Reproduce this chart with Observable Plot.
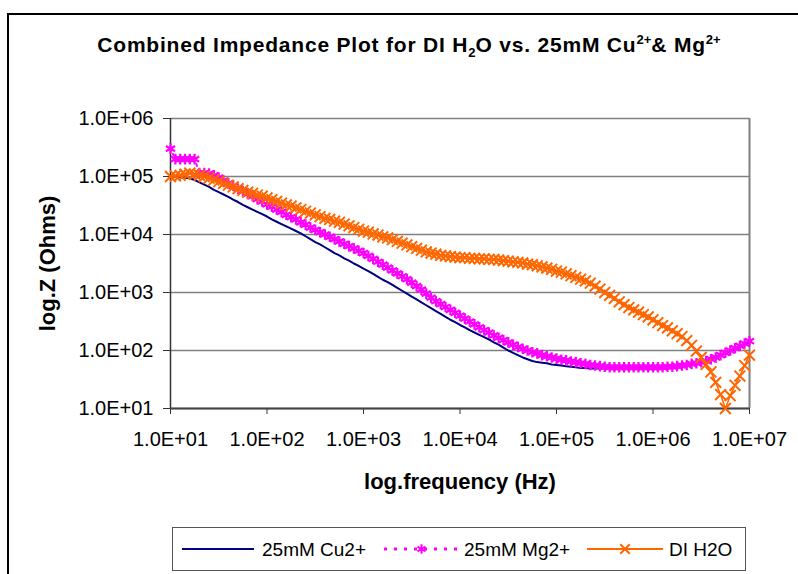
<!DOCTYPE html>
<html><head><meta charset="utf-8">
<script src="https://cdn.jsdelivr.net/npm/d3@7"></script>
<script src="https://cdn.jsdelivr.net/npm/@observablehq/plot@0.6"></script>
<style>
html,body{margin:0;padding:0;background:#fff;}
#wrap{position:relative;width:798px;height:574px;overflow:hidden;font-family:"Liberation Sans",Arial,sans-serif;background:#fff;}
#frame{position:absolute;left:7px;top:13px;width:900px;height:700px;border:2px solid #000;}
#title{position:absolute;left:0;width:818px;top:32px;text-align:center;font-weight:bold;font-size:21px;white-space:nowrap;letter-spacing:0.8px;line-height:26px;}
#title sub,#title sup{font-size:0.62em;line-height:0;letter-spacing:0;}
#chart{position:absolute;left:0;top:0;}
#legend{position:absolute;left:172px;top:527px;width:572px;height:42px;border:1px solid #555;background:#fff;}
#legend svg{display:block;}
</style>
</head><body>
<div id="wrap">
  <div id="frame"></div>
  <div id="chart"></div>
  <div id="title">Combined Impedance Plot for DI H<sub>2</sub>O vs. 25mM Cu<sup>2+</sup>&amp; Mg<sup>2+</sup></div>
  <div id="legend"></div>
</div>
<script>
// frequency exponents (log10 Hz)
const logFreq = [
 1.00,1.05,1.10,1.15,1.20,1.25,1.30,1.35,1.40,1.45,1.50,1.55,1.60,1.65,1.70,1.75,1.80,1.85,1.90,1.95,
 2.00,2.05,2.10,2.15,2.20,2.25,2.30,2.35,2.40,2.45,2.50,2.55,2.60,2.65,2.70,2.75,2.80,2.85,2.90,2.95,
 3.00,3.05,3.10,3.15,3.20,3.25,3.30,3.35,3.40,3.45,3.50,3.55,3.60,3.65,3.70,3.75,3.80,3.85,3.90,3.95,
 4.00,4.05,4.10,4.15,4.20,4.25,4.30,4.35,4.40,4.45,4.50,4.55,4.60,4.65,4.70,4.75,4.80,4.85,4.90,4.95,
 5.00,5.05,5.10,5.15,5.20,5.25,5.30,5.35,5.40,5.45,5.50,5.55,5.60,5.65,5.70,5.75,5.80,5.85,5.90,5.95,
 6.00,6.05,6.10,6.15,6.20,6.25,6.30,6.35,6.40,6.45,6.50,6.55,6.60,6.65,6.70,6.75,6.80,6.85,6.90,6.95,
 7.00];
// log10 impedance (Ohms)
const cuLogZ = [
 5.00,5.00,4.99,4.98,4.97,4.94,4.90,4.86,4.82,4.77,4.73,4.69,4.65,4.60,4.56,4.51,4.47,4.43,4.39,4.35,
 4.31,4.26,4.22,4.18,4.14,4.10,4.06,4.02,3.97,3.92,3.87,3.83,3.78,3.73,3.68,3.64,3.59,3.55,3.50,3.46,
 3.41,3.37,3.32,3.27,3.22,3.18,3.13,3.08,3.03,2.98,2.93,2.88,2.83,2.78,2.73,2.68,2.63,2.58,2.53,2.49,
 2.44,2.40,2.35,2.31,2.27,2.23,2.19,2.14,2.10,2.05,2.00,1.96,1.92,1.88,1.85,1.82,1.80,1.79,1.78,1.76,
 1.75,1.74,1.73,1.72,1.71,1.70,1.70,1.69,1.69,1.69,1.69,1.69,1.69,1.69,1.69,1.69,1.69,1.69,1.69,1.69,
 1.69,1.70,1.70,1.71,1.71,1.72,1.73,1.75,1.76,1.78,1.80,1.83,1.85,1.88,1.91,1.95,1.98,2.02,2.06,2.10,
 2.15];
const mgLogZ = [
 5.48,5.30,5.30,5.30,5.30,5.30,5.06,5.06,5.05,5.02,4.98,4.93,4.88,4.84,4.79,4.75,4.70,4.66,4.61,4.57,
 4.52,4.48,4.43,4.39,4.34,4.30,4.26,4.21,4.17,4.12,4.08,4.04,4.00,3.96,3.92,3.88,3.84,3.80,3.76,3.72,
 3.68,3.63,3.58,3.53,3.48,3.43,3.38,3.33,3.28,3.23,3.17,3.11,3.05,2.98,2.91,2.85,2.80,2.75,2.70,2.65,
 2.60,2.55,2.50,2.45,2.40,2.35,2.31,2.26,2.22,2.18,2.14,2.10,2.06,2.03,2.00,1.97,1.95,1.92,1.90,1.88,
 1.86,1.84,1.83,1.81,1.80,1.78,1.77,1.75,1.74,1.73,1.72,1.71,1.71,1.71,1.71,1.71,1.71,1.71,1.71,1.71,
 1.71,1.71,1.71,1.72,1.72,1.73,1.74,1.75,1.77,1.78,1.80,1.82,1.85,1.88,1.92,1.96,2.00,2.04,2.08,2.12,
 2.16];
const h2oLogZ = [
 5.00,5.01,5.02,5.04,5.06,5.04,5.02,5.00,4.97,4.94,4.91,4.88,4.85,4.82,4.79,4.76,4.73,4.71,4.68,4.66,
 4.63,4.60,4.57,4.54,4.51,4.49,4.46,4.43,4.40,4.37,4.34,4.31,4.28,4.26,4.23,4.21,4.18,4.15,4.12,4.09,
 4.06,4.04,4.01,3.99,3.96,3.94,3.91,3.88,3.85,3.82,3.79,3.76,3.73,3.70,3.68,3.66,3.64,3.63,3.62,3.61,
 3.60,3.60,3.59,3.59,3.58,3.58,3.57,3.57,3.56,3.55,3.54,3.53,3.52,3.51,3.49,3.48,3.46,3.44,3.42,3.40,
 3.37,3.35,3.32,3.29,3.26,3.23,3.20,3.16,3.11,3.06,3.00,2.95,2.90,2.84,2.79,2.74,2.70,2.66,2.62,2.58,
 2.53,2.48,2.43,2.39,2.34,2.29,2.24,2.17,2.09,1.99,1.88,1.76,1.63,1.45,1.24,1.00,1.22,1.40,1.56,1.74,
 1.92];
const xTicks = [1e1,1e2,1e3,1e4,1e5,1e6,1e7];
const xTickLabels = ["1.0E+01","1.0E+02","1.0E+03","1.0E+04","1.0E+05","1.0E+06","1.0E+07"];
const yTicks = [1e1,1e2,1e3,1e4,1e5,1e6];
const yTickLabels = ["1.0E+01","1.0E+02","1.0E+03","1.0E+04","1.0E+05","1.0E+06"];
const seriesNames = ["25mM Cu2+","25mM Mg2+","DI H2O"];
const seriesColors = ["#000080","#FF00FF","#FF6600"];

const toRows = (arr) => logFreq.map((f, i) => ({f: Math.pow(10, f), z: Math.pow(10, arr[i])}));
const cu = toRows(cuLogZ), mg = toRows(mgLogZ), h2o = toRows(h2oLogZ);

const chart = Plot.plot({
  width: 798, height: 574,
  marginLeft: 170, marginRight: 49, marginTop: 118, marginBottom: 166,
  style: {fontFamily: "'Liberation Sans', Arial, sans-serif", fontSize: "20px", color: "#000", background: "transparent", overflow: "visible"},
  x: {type: "log", domain: [10, 1e7]},
  y: {type: "log", domain: [10, 1e6]},
  marks: [
    Plot.gridY(yTicks, {stroke: "#808080", strokeOpacity: 1, strokeWidth: 1.5}),
    Plot.ruleX([1e7], {stroke: "#808080", strokeWidth: 2}),
    Plot.axisY(yTicks, {tickFormat: d => yTickLabels[yTicks.indexOf(d)], tickSize: 7, tickPadding: 10, label: null, stroke: "#333", fill: "#000"}),
    Plot.axisX(xTicks, {tickFormat: d => xTickLabels[xTicks.indexOf(d)], tickSize: 6, tickPadding: 17, label: null, stroke: "#333", fill: "#000"}),
    Plot.ruleX([10], {stroke: "#333", strokeWidth: 1.5}),
    Plot.ruleY([10], {stroke: "#444", strokeWidth: 2}),
    Plot.line(cu, {x: "f", y: "z", stroke: seriesColors[0], strokeWidth: 2}),
    Plot.line(mg, {x: "f", y: "z", stroke: seriesColors[1], strokeWidth: 2, strokeDasharray: "2,4"}),
    Plot.dot(mg, {x: "f", y: "z", symbol: "asterisk", stroke: seriesColors[1], r: 5, strokeWidth: 2.2}),
    Plot.line(h2o, {x: "f", y: "z", stroke: seriesColors[2], strokeWidth: 1.5}),
    Plot.dot(h2o, {x: "f", y: "z", symbol: "times", stroke: seriesColors[2], r: 5, strokeWidth: 2}),
    Plot.text(["log.Z (Ohms)"], {frameAnchor: "left", dx: -123, dy: 0, rotate: -90, textAnchor: "middle", lineAnchor: "middle", fontWeight: "bold", fontSize: 22, fill: "#000"}),
    Plot.text(["log.frequency (Hz)"], {frameAnchor: "bottom", dy: 73, textAnchor: "middle", lineAnchor: "middle", fontWeight: "bold", fontSize: 22, fill: "#000"})
  ]
});
document.getElementById("chart").appendChild(chart);

// legend
const ns = "http://www.w3.org/2000/svg";
const lg = document.createElementNS(ns, "svg");
lg.setAttribute("width", 572); lg.setAttribute("height", 42);
const items = [
  {x0: 9, x1: 81, tx: 89, dash: null, sym: null},
  {x0: 211, x1: 286, tx: 291, dash: "3,7", sym: "asterisk"},
  {x0: 414, x1: 490, tx: 496, dash: null, sym: "times"}
];
items.forEach((it, i) => {
  const l = document.createElementNS(ns, "line");
  l.setAttribute("x1", it.x0); l.setAttribute("x2", it.x1);
  l.setAttribute("y1", 21); l.setAttribute("y2", 21);
  l.setAttribute("stroke", seriesColors[i]); l.setAttribute("stroke-width", i === 1 ? 3 : 2);
  if (it.dash) l.setAttribute("stroke-dasharray", it.dash);
  lg.appendChild(l);
  if (it.sym) {
    const cx = (it.x0 + it.x1) / 2, p = document.createElementNS(ns, "path");
    const sym = it.sym === "times" ? d3.symbolTimes : d3.symbolAsterisk;
    p.setAttribute("d", d3.symbol(sym, 60)());
    p.setAttribute("transform", `translate(${cx},21)`);
    p.setAttribute("stroke", seriesColors[i]); p.setAttribute("stroke-width", 2); p.setAttribute("fill", "none");
    lg.appendChild(p);
  }
  const t = document.createElementNS(ns, "text");
  t.setAttribute("x", it.tx); t.setAttribute("y", 28);
  t.setAttribute("font-family", "'Liberation Sans', Arial, sans-serif");
  t.setAttribute("font-size", 19);
  t.textContent = seriesNames[i];
  lg.appendChild(t);
});
document.getElementById("legend").appendChild(lg);
</script>
</body></html>
